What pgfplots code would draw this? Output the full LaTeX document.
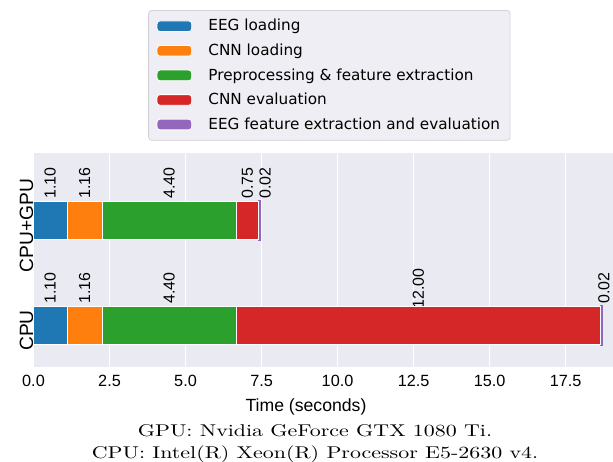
\documentclass[border=0pt]{standalone}
\usepackage{fontspec}
\usepackage{graphicx}
\usepackage{pgfplots}
\pgfplotsset{compat=1.18}
\newfontfamily\arial{Liberation Sans}
\newfontfamily\djv{DejaVu Sans}
\definecolor{bg}{HTML}{EAEAF2}
\definecolor{legfill}{HTML}{EEEEF4}
\definecolor{legdraw}{HTML}{D2D2D8}
\definecolor{c1}{HTML}{1F77B4}
\definecolor{c2}{HTML}{FF7F0E}
\definecolor{c3}{HTML}{2CA02C}
\definecolor{c4}{HTML}{D62728}
\definecolor{c5}{HTML}{9467BD}
\tikzset{ann/.style={rotate=90, inner sep=0pt, font=\arial\fontsize{16}{19}\selectfont}}
\begin{document}
\begin{tikzpicture}[x=1bp,y=1bp]
\useasboundingbox (0,0) rectangle (613,462);
\begin{axis}[
  at={(33.5bp,95.3bp)}, anchor=south west,
  width=579.5bp, height=213.4bp, scale only axis,
  xmin=0, xmax=19.06, ymin=-0.392, ymax=1.64,
  xbar stacked, bar width=37.8bp,
  clip=false,
  axis background/.style={fill=bg},
  axis line style={draw=none},
  major tick length=0pt,
  xtick={0,2.5,5,7.5,10,12.5,15,17.5},
  xticklabels={0.0,2.5,5.0,7.5,10.0,12.5,15.0,17.5},
  ytick={0,1}, yticklabels={CPU,CPU+GPU},
  xmajorgrids, ymajorgrids=false,
  grid style={white, line width=1bp},
  xticklabel style={anchor=north, inner sep=0pt, yshift=-8.3bp, font=\arial\fontsize{16.3}{19}\selectfont},
  yticklabel style={rotate=90, anchor=south, inner sep=0pt, xshift=-5bp, font=\arial\fontsize{19.3}{22}\selectfont},
  legend style={
    at={(0.198,1.671)}, anchor=north west,
    fill=legfill, draw=legdraw, rounded corners=3bp, line width=0.8bp,
    inner xsep=8bp, inner ysep=7.5bp,
    font=\djv\fontsize{15.3}{18}\selectfont,
    cells={inner sep=0pt, text height=11bp, text depth=3bp},
    /tikz/row sep=8.1bp, /tikz/column sep=14.3bp,
  },
  legend cell align=left,
  area legend,
  legend image post style={xscale=2.04, yscale=1.88},
]
\addplot[fill=c1, draw=white, line width=0.8bp] coordinates {(1.10,0) (1.10,1)};
\addlegendentry{EEG loading}
\addplot[fill=c2, draw=white, line width=0.8bp] coordinates {(1.16,0) (1.16,1)};
\addlegendentry{CNN loading}
\addplot[fill=c3, draw=white, line width=0.8bp] coordinates {(4.40,0) (4.40,1)};
\addlegendentry{Preprocessing \& feature extraction}
\addplot[fill=c4, draw=white, line width=0.8bp] coordinates {(12.00,0) (0.75,1)};
\addlegendentry{CNN evaluation}
\addplot[fill=c5, draw=c5, line width=2.6bp, forget plot] coordinates {(0.02,0) (0.02,1)};
\addlegendimage{area legend, fill=c5, draw=white, line width=0.8bp}
\addlegendentry{EEG feature extraction and evaluation}
\node[ann] at (axis cs:0.55,1.355) {1.10};
\node[ann] at (axis cs:1.68,1.355) {1.16};
\node[ann] at (axis cs:4.46,1.355) {4.40};
\node[ann] at (axis cs:7.035,1.355) {0.75};
\node[ann] at (axis cs:7.62,1.355) {0.02};
\node[ann] at (axis cs:0.55,0.355) {1.10};
\node[ann] at (axis cs:1.68,0.355) {1.16};
\node[ann] at (axis cs:4.46,0.355) {4.40};
\node[ann] at (axis cs:12.66,0.355) {12.00};
\node[ann] at (axis cs:18.76,0.355) {0.02};
\end{axis}
\node[anchor=base, font=\arial\fontsize{17.7}{21}\selectfont] at (306,50.3) {Time (seconds)};
\node[anchor=base, inner sep=0pt] at (315,25.3) {\scalebox{2.2}[1.71]{\fontsize{10}{12}\selectfont GPU: Nvidia GeForce GTX 1080 Ti.}};
\node[anchor=base, inner sep=0pt] at (315,3.7) {\scalebox{2.2}[1.71]{\fontsize{10}{12}\selectfont CPU: Intel(R) Xeon(R) Processor E5-2630 v4.}};
\end{tikzpicture}
\end{document}
